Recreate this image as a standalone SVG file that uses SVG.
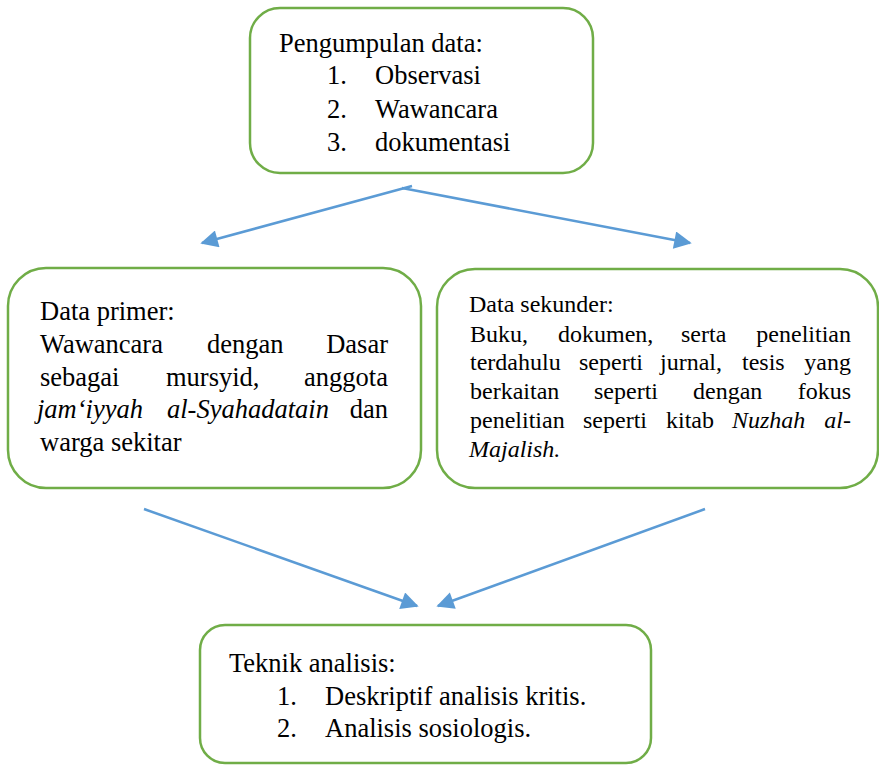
<svg xmlns="http://www.w3.org/2000/svg" width="879" height="765" viewBox="0 0 879 765">
<style>
.box{fill:#fff;stroke:#70AD47;stroke-width:2.5}
.t{font-family:"Liberation Serif","Times New Roman",serif;font-size:26.5px;fill:#000}
.s{font-family:"Liberation Serif","Times New Roman",serif;font-size:24px;fill:#000}
.i{font-style:italic}
.c{fill:none;stroke:#5B9BD5;stroke-width:2.5;marker-end:url(#ah)}
</style>
<defs>
<marker id="ah" viewBox="0 0 10 10" refX="9" refY="5" markerWidth="7.5" markerHeight="7" markerUnits="strokeWidth" orient="auto">
<path d="M0,0 L10,5 L0,10 z" fill="#5B9BD5"/>
</marker>
</defs>
<rect width="879" height="765" fill="#fff"/>
<g id="connectors">
<line class="c" x1="412" y1="186" x2="202" y2="243"/>
<line class="c" x1="402" y1="188" x2="690" y2="243"/>
<line class="c" x1="144" y1="509" x2="417" y2="606"/>
<line class="c" x1="705" y1="509" x2="438" y2="606"/>
</g>
<g id="pengumpulan">
<rect class="box" x="250" y="8" width="343" height="165" rx="30"/>
<text class="t" x="279" y="52">Pengumpulan data:</text>
<text class="t" x="327" y="84">1.</text>
<text class="t" x="375" y="84">Observasi</text>
<text class="t" x="327" y="118">2.</text>
<text class="t" x="375" y="118">Wawancara</text>
<text class="t" x="327" y="151">3.</text>
<text class="t" x="375" y="151">dokumentasi</text>
</g>
<g id="primer">
<rect class="box" x="8" y="268" width="413" height="220" rx="38"/>
<text class="t" x="40" y="320">Data primer:</text>
<text class="t" x="40" y="353">Wawancara</text>
<text class="t" x="207" y="353">dengan</text>
<text class="t" x="388" y="353" text-anchor="end">Dasar</text>
<text class="t" x="40" y="386">sebagai</text>
<text class="t" x="166" y="386">mursyid,</text>
<text class="t" x="388" y="386" text-anchor="end">anggota</text>
<text class="t i" x="37" y="418">jam‘iyyah</text>
<text class="t i" x="167" y="418">al-Syahadatain</text>
<text class="t" x="388" y="418" text-anchor="end">dan</text>
<text class="t" x="40" y="451">warga sekitar</text>
</g>
<g id="sekunder">
<rect class="box" x="437" y="269" width="441" height="219" rx="38"/>
<text class="s" x="469" y="312">Data sekunder:</text>
<text class="s" x="470" y="342">Buku,</text>
<text class="s" x="558" y="342">dokumen,</text>
<text class="s" x="681" y="342">serta</text>
<text class="s" x="851" y="342" text-anchor="end">penelitian</text>
<text class="s" x="470" y="370">terdahulu</text>
<text class="s" x="579" y="370">seperti</text>
<text class="s" x="660" y="370">jurnal,</text>
<text class="s" x="742" y="370">tesis</text>
<text class="s" x="851" y="370" text-anchor="end">yang</text>
<text class="s" x="470" y="399">berkaitan</text>
<text class="s" x="594" y="399">seperti</text>
<text class="s" x="693" y="399">dengan</text>
<text class="s" x="851" y="399" text-anchor="end">fokus</text>
<text class="s" x="470" y="428">penelitian</text>
<text class="s" x="583" y="428">seperti</text>
<text class="s" x="666" y="428">kitab</text>
<text class="s i" x="732" y="428">Nuzhah</text>
<text class="s i" x="851" y="428" text-anchor="end">al-</text>
<text class="s i" x="469" y="457">Majalish.</text>
</g>
<g id="teknik">
<rect class="box" x="200" y="625" width="451" height="138" rx="25"/>
<text class="t" x="229" y="672">Teknik analisis:</text>
<text class="t" x="277" y="705">1.</text>
<text class="t" x="325" y="705">Deskriptif analisis kritis.</text>
<text class="t" x="277" y="737">2.</text>
<text class="t" x="325" y="737">Analisis sosiologis.</text>
</g>
</svg>
